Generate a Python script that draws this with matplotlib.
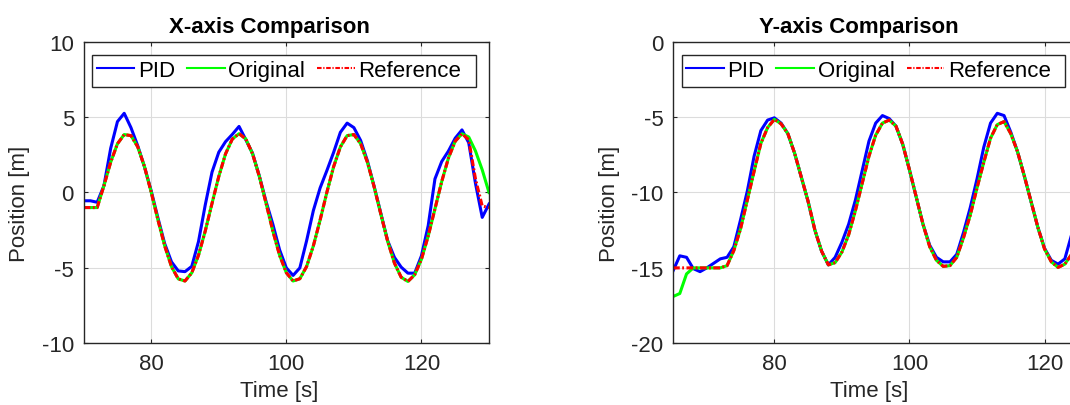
import numpy as np
import matplotlib
matplotlib.use('Agg')
import matplotlib.pyplot as plt
from matplotlib.patches import Rectangle

# Muestras de tiempo (s) para cada eje
t_x = np.arange(70, 131)
t_y = np.arange(65, 126)

# Posición X [m]
pid_x = [-0.55, -0.55, -0.65, 0.45, 2.93, 4.7, 5.25, 4.3, 3.1, 1.7,
         0.1, -1.7, -3.4, -4.6, -5.2, -5.25, -4.9, -3.25, -0.82, 1.35,
         2.67, 3.37, 3.85, 4.38, 3.5, 2.6, 1.1, -0.6, -2.1, -3.8,
         -5.0, -5.5, -5.0, -3.2, -1.2, 0.3, 1.45, 2.66, 3.99, 4.6,
         4.3, 3.45, 2.1, 0.4, -1.4, -3.2, -4.3, -4.95, -5.35, -5.35,
         -4.2, -2.2, 0.9, 2.05, 2.75, 3.6, 4.15, 3.3, 0.6, -1.65,
         -0.77]
orig_x = [-1.0, -1.0, -1.0, 0.45, 2.01, 3.23, 3.84, 3.77, 3.03, 1.72,
          0.01, -1.83, -3.55, -4.92, -5.73, -5.87, -5.33, -4.16, -2.55, -0.72,
          1.06, 2.56, 3.54, 3.90, 3.55, 2.56, 1.07, -0.72, -2.55, -4.16,
          -5.32, -5.87, -5.72, -4.91, -3.54, -1.83, 0.01, 1.71, 3.02, 3.77,
          3.84, 3.23, 2.01, 0.37, -1.46, -3.23, -4.68, -5.62, -5.90, -5.46,
          -4.43, -2.89, -1.09, 0.72, 2.29, 3.40, 3.89, 3.68, 2.75, 1.5,
          0.0]
ref_x = [-1.0, -1.0, -1.0, 0.45, 2.01, 3.23, 3.84, 3.77, 3.03, 1.72,
         0.01, -1.83, -3.55, -4.92, -5.73, -5.87, -5.33, -4.16, -2.55, -0.72,
         1.06, 2.56, 3.54, 3.90, 3.55, 2.56, 1.07, -0.72, -2.55, -4.16,
         -5.32, -5.87, -5.72, -4.91, -3.54, -1.83, 0.01, 1.71, 3.02, 3.77,
         3.84, 3.23, 2.01, 0.37, -1.46, -3.23, -4.68, -5.62, -5.90, -5.46,
         -4.43, -2.89, -1.09, 0.72, 2.29, 3.40, 3.89, 3.5, 0.9, -0.9,
         -1.0]

# Posición Y [m]
pid_y = [-15.2, -14.2, -14.3, -15.05, -15.25, -15.0, -14.7, -14.4, -14.3, -13.6,
         -11.8, -9.9, -7.6, -5.9, -5.2, -5.05, -5.4, -6.1, -7.4, -9.0,
         -10.6, -12.5, -13.9, -14.8, -14.3, -13.3, -12.1, -10.5, -8.55, -6.6,
         -5.4, -4.9, -5.1, -5.6, -6.8, -8.5, -10.3, -12.1, -13.5, -14.3,
         -14.6, -14.6, -14.1, -12.65, -11.0, -9.1, -7.0, -5.4, -4.75, -4.9,
         -6.0, -7.3, -8.9, -10.6, -12.3, -13.7, -14.5, -14.75, -14.4, -12.8,
         -11.0]
orig_y = [-16.9, -16.7, -15.4, -15.0, -15.0, -15.0, -15.0, -15.0, -14.85, -13.85,
          -12.4, -10.5, -8.6, -6.75, -5.7, -5.15, -5.45, -6.1, -7.4, -9.0,
          -10.6, -12.5, -13.9, -14.8, -14.65, -13.95, -12.8, -11.2, -9.4, -7.6,
          -6.2, -5.4, -5.2, -5.6, -6.8, -8.5, -10.3, -12.1, -13.6, -14.5,
          -14.9, -14.85, -14.3, -13.0, -11.5, -9.7, -8.0, -6.4, -5.5, -5.3,
          -6.1, -7.3, -8.9, -10.6, -12.3, -13.75, -14.6, -14.97, -14.75, -14.1,
          -13.0]
ref_y = [-15.0, -15.0, -15.0, -15.0, -15.0, -15.0, -15.0, -15.0, -14.85, -13.85,
         -12.4, -10.5, -8.6, -6.75, -5.7, -5.15, -5.45, -6.1, -7.4, -9.0,
         -10.6, -12.5, -13.9, -14.8, -14.65, -13.95, -12.8, -11.2, -9.4, -7.6,
         -6.2, -5.4, -5.2, -5.6, -6.8, -8.5, -10.3, -12.1, -13.6, -14.5,
         -14.9, -14.85, -14.3, -13.0, -11.5, -9.7, -8.0, -6.4, -5.5, -5.3,
         -6.1, -7.3, -8.9, -10.6, -12.3, -13.75, -14.6, -14.97, -14.75, -14.1,
         -13.0]

TEXT = '#262626'
plt.rcParams['font.family'] = ['Liberation Sans', 'DejaVu Sans']
plt.rcParams['axes.unicode_minus'] = False
plt.rcParams['font.size'] = 16

fig = plt.figure(figsize=(10.70, 4.06), dpi=100, facecolor='white')
ax1 = fig.add_axes([0.0782, 0.152, 0.3788, 0.7429])
ax2 = fig.add_axes([0.629, 0.152, 0.3788, 0.7429])


def draw_panel(ax, t, pid, orig, ref, title, xlim, ylim, yticks):
    ax.plot(t, pid, color='#0000ff', lw=2.2, solid_joinstyle='round', label='PID')
    ax.plot(t, orig, color='#00ff00', lw=2.2, solid_joinstyle='round', label='Original')
    ax.plot(t, ref, color='#ff0000', lw=2.2, dashes=(2.2, 0.8, 0.6, 0.8),
            dash_joinstyle='round', label='Reference')
    ax.set_xlim(*xlim)
    ax.set_ylim(*ylim)
    ax.set_xticks([80, 100, 120])
    ax.set_yticks(yticks)
    ax.grid(True, color='#dcdcdc', lw=0.8)
    ax.set_axisbelow(True)
    for s in ax.spines.values():
        s.set_color(TEXT)
        s.set_linewidth(1.0)
    ax.tick_params(direction='in', top=True, right=True, length=3, width=0.8,
                   color=TEXT, labelcolor=TEXT, labelsize=16, pad=7)
    ax.set_title(title, fontsize=16, fontweight='bold', color='black',
                 x=0.458, pad=6.8)
    ax.set_xlabel('Time [s]', fontsize=16, color=TEXT)
    ax.set_ylabel('Position [m]', fontsize=16, color=TEXT)
    ax.xaxis.set_label_coords(0.483, -0.122)
    ax.yaxis.set_label_coords(-0.132, 0.467)

    # marco de la leyenda
    ax.add_patch(Rectangle((0.0212, 0.851), 0.9467, 0.106, transform=ax.transAxes,
                           facecolor='white', edgecolor=TEXT, lw=1.0, zorder=4))
    leg = ax.legend(loc='center left', bbox_to_anchor=(0.032, 0.904), ncol=3,
                    fontsize=16, handlelength=1.7, handletextpad=0.15,
                    columnspacing=0.55, borderpad=0, borderaxespad=0,
                    frameon=False)
    leg.set_zorder(5)
    for line in leg.get_lines():
        line.set_linewidth(1.5)
    for txt in leg.get_texts():
        txt.set_color('black')


draw_panel(ax1, t_x, pid_x, orig_x, ref_x, 'X-axis Comparison',
           (70, 130), (-10, 10), [-10, -5, 0, 5, 10])
draw_panel(ax2, t_y, pid_y, orig_y, ref_y, 'Y-axis Comparison',
           (65, 125), (-20, 0), [-20, -15, -10, -5, 0])

fig.savefig('out.png', dpi=100, facecolor='white')
